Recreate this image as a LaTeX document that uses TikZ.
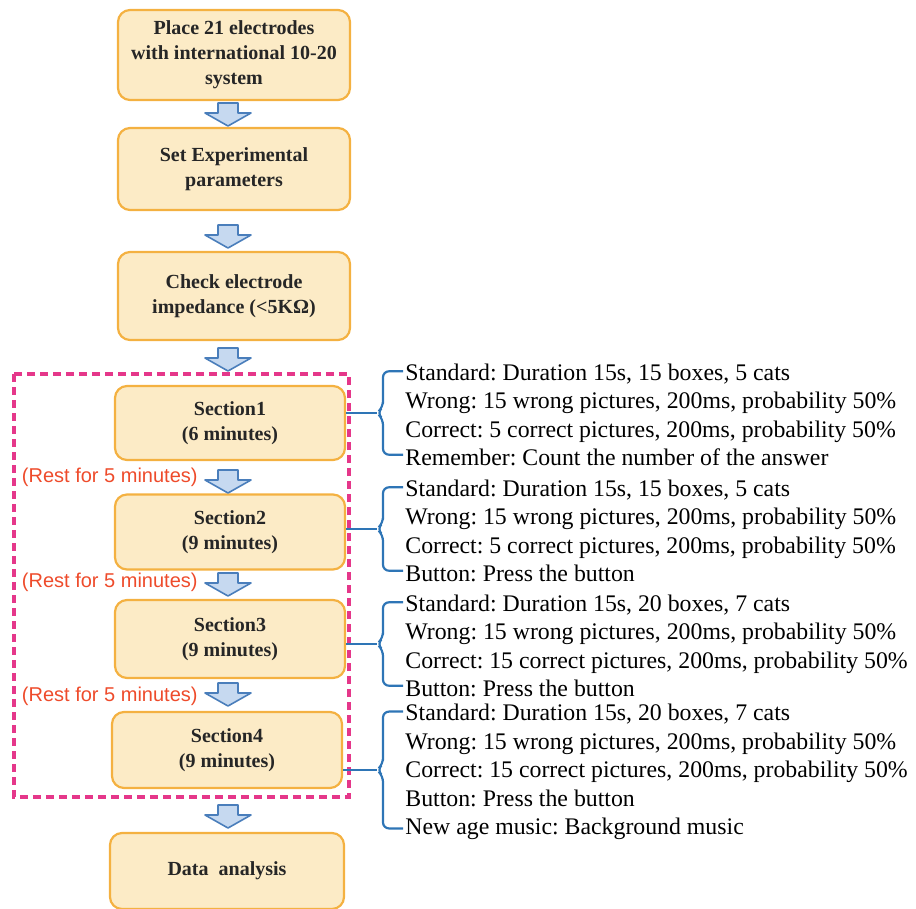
\documentclass[tikz,border=0pt]{standalone}
\usepackage{fontspec}
\setmainfont{Liberation Serif}
\newfontfamily\restfont{Liberation Sans}
\usepackage{tikz}
\usetikzlibrary{
    positioning,
    calc
}
\frenchspacing
\definecolor{boxfill}{HTML}{FCEBC6}
\definecolor{boxborder}{HTML}{F4B141}
\definecolor{arrowfill}{HTML}{C6D9F0}
\definecolor{arrowborder}{HTML}{4A7EBB}
\definecolor{framecolor}{HTML}{E5378A}
\definecolor{bracecolor}{HTML}{2E75B6}
\definecolor{restcolor}{HTML}{EE4B2B}
\tikzset{
    stepbox/.style={
        rectangle, draw=boxborder, fill=boxfill,
        rounded corners=6pt, line width=1.1pt,
        minimum width=116pt, align=center,
        font=\fontsize{10}{12.5}\selectfont\bfseries, text=black!85
    },
    section box/.style={
        stepbox, minimum width=115pt
    },
    rest label/.style={
        anchor=east, inner sep=0pt, text=restcolor,
        font=\restfont\fontsize{10}{12}\selectfont
    },
    detail/.style={
        anchor=west, align=left, inner sep=0pt,
        font=\fontsize{11.9}{14.3}\selectfont
    },
    detail brace/.style={
        draw=bracecolor, line width=1.1pt, rounded corners=3pt
    },
    detail link/.style={
        draw=bracecolor, line width=1.1pt
    },
    group frame/.style={
        draw=framecolor, line width=1.8pt, dash pattern=on 4pt off 2.5pt
    },
    pics/flowarrow/.style={
        code={
            \draw[draw=arrowborder, fill=arrowfill, line width=0.8pt, line join=round]
                (-5pt,0) -- (5pt,0) -- (5pt,-5pt) -- (11.5pt,-5pt) -- (0,-11.5pt)
                -- (-11.5pt,-5pt) -- (-5pt,-5pt) -- cycle;
        }
    },
}

\begin{document}
\begin{tikzpicture}[x=0.5pt, y=-0.5pt]
    \useasboundingbox (0,0) rectangle (916,909);

    % Main steps
    \node[stepbox, minimum height=45pt] (place) at (234,55) {
        Place 21 electrodes\\with international 10-20\\system
    };
    \node[stepbox, minimum height=41pt] (setpar) at (234,169) {
        Set Experimental\\parameters
    };
    \node[stepbox, minimum height=44pt] (check) at (234,296) {
        Check electrode\\impedance (<5KΩ)
    };

    % Sections
    \node[section box, minimum height=37pt] (sec1) at (230,423) {Section1\\(6 minutes)};
    \node[section box, minimum height=37.5pt] (sec2) at (230,532) {Section2\\(9 minutes)};
    \node[section box, minimum height=39pt] (sec3) at (230,639) {Section3\\(9 minutes)};
    \node[section box, minimum height=38pt] (sec4) at (227,750) {Section4\\(9 minutes)};

    \node[stepbox, minimum width=117pt, minimum height=38pt] (data) at (227,871) {Data~ analysis};

    \draw[group frame] (14,374) rectangle (349,797);

    % Block arrows
    \pic at (228,103) {flowarrow};
    \pic at (228,225) {flowarrow};
    \pic at (228,348) {flowarrow};
    \pic at (228,470) {flowarrow};
    \pic at (228,573) {flowarrow};
    \pic at (228,683) {flowarrow};
    \pic at (228,805) {flowarrow};

    \node[rest label] (rest1) at (198,477) {(Rest for 5 minutes)};
    \node[rest label] (rest2) at (198,582) {(Rest for 5 minutes)};
    \node[rest label] (rest3) at (198,696) {(Rest for 5 minutes)};

    % Details of each section
    \node[detail] (det1) at (405,415) {
        Standard: Duration 15s, 15 boxes, 5 cats\\
        Wrong: 15 wrong pictures, 200ms, probability 50\%\\
        Correct: 5 correct pictures, 200ms, probability 50\%\\
        Remember: Count the number of the answer
    };
    \node[detail] (det2) at (405,531) {
        Standard: Duration 15s, 15 boxes, 5 cats\\
        Wrong: 15 wrong pictures, 200ms, probability 50\%\\
        Correct: 5 correct pictures, 200ms, probability 50\%\\
        Button: Press the button
    };
    \node[detail] (det3) at (405,646) {
        Standard: Duration 15s, 20 boxes, 7 cats\\
        Wrong: 15 wrong pictures, 200ms, probability 50\%\\
        Correct: 15 correct pictures, 200ms, probability 50\%\\
        Button: Press the button
    };
    \node[detail] (det4) at (405,772) {
        Standard: Duration 15s, 20 boxes, 7 cats\\
        Wrong: 15 wrong pictures, 200ms, probability 50\%\\
        Correct: 15 correct pictures, 200ms, probability 50\%\\
        Button: Press the button\\
        New age music: Background music
    };

    % Brackets
    \foreach \i in {1,...,4} {
        \coordinate (top\i) at ([xshift=-1pt,yshift=-4pt]det\i.north west);
        \coordinate (bot\i) at ([xshift=-1pt,yshift=6pt]det\i.south west);
        \coordinate (tip\i) at ($(top\i)!0.5!(bot\i)+(-13pt,0)$);
        \draw[detail brace] (top\i) -- ++(-10pt,0) |- ($(tip\i)+(3pt,3pt)$)
            -- (tip\i) -- ($(tip\i)+(3pt,-3pt)$) |- (bot\i);
        \draw[detail link] (sec\i.east |- tip\i) -- (tip\i);
    }
\end{tikzpicture}
\end{document}
